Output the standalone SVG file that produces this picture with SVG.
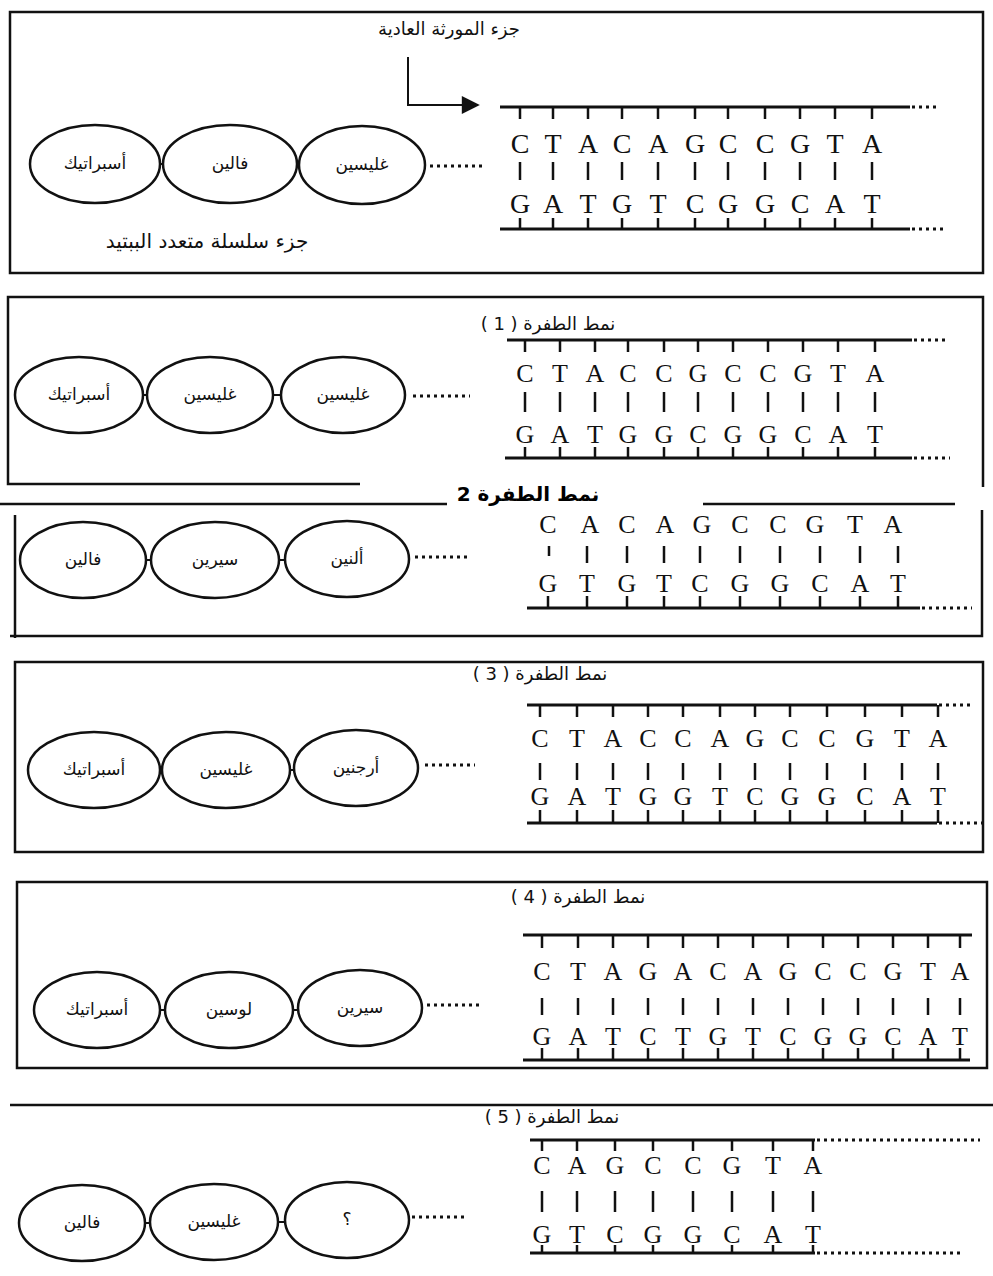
<svg xmlns="http://www.w3.org/2000/svg" width="993" height="1276" viewBox="0 0 993 1276">
<style>
.frame{fill:none;stroke:#111;stroke-width:2.5}
.strand{fill:none;stroke:#111;stroke-width:3}
.tick{fill:none;stroke:#111;stroke-width:2.5}
.dots{fill:none;stroke:#111;stroke-width:3;stroke-dasharray:3 4}
.oval{fill:#fff;stroke:#111;stroke-width:2.5}
.base{font-family:'Liberation Serif','DejaVu Serif',serif;font-size:26px;fill:#111;text-anchor:middle}
.big{font-size:28px}
.ar{font-family:'DejaVu Sans',sans-serif;font-size:17px;fill:#111;text-anchor:middle}
.lbl{font-family:'DejaVu Sans',sans-serif;font-size:18px;fill:#111;text-anchor:middle}
.cap{font-size:20px}
.bold{font-family:'DejaVu Sans',sans-serif;font-size:20px;font-weight:bold;fill:#000;text-anchor:middle}
.link{fill:none;stroke:#111;stroke-width:2}
</style>
<defs>
<marker id="arr" viewBox="0 0 10 10" refX="9" refY="5" markerWidth="11" markerHeight="9" orient="auto" markerUnits="strokeWidth">
<path d="M0,0 L10,5 L0,10 z" fill="#111"/>
</marker>
</defs>

<g id="frames">
<rect class="frame" x="10" y="12" width="973" height="261"/>
<path class="frame" d="M360,484 H8 V297 H983 V487"/>
<path class="frame" d="M0,504 H447 M703,504 H955 M15,515 V638 M10,636 H982 V510"/>
<rect class="frame" x="15" y="662" width="968" height="190"/>
<rect class="frame" x="17" y="882" width="970" height="186"/>
<path class="frame" d="M10,1105 H993"/>
</g>

<g id="labels">
<text class="lbl" x="449" y="35" direction="rtl">جزء المورثة العادية</text>
<text class="lbl cap" x="207" y="248" direction="rtl">جزء سلسلة متعدد الببتيد</text>
<text class="lbl" x="548" y="330" direction="rtl">نمط الطفرة ( 1 )</text>
<text class="bold" x="528" y="501" direction="rtl">نمط الطفرة 2</text>
<text class="lbl" x="540" y="680" direction="rtl">نمط الطفرة ( 3 )</text>
<text class="lbl" x="578" y="903" direction="rtl">نمط الطفرة ( 4 )</text>
<text class="lbl" x="552" y="1123" direction="rtl">نمط الطفرة ( 5 )</text>
</g>

<g id="dna1">
<path class="strand" d="M500,107 H910 M500,229 H910"/>
<path class="tick" d="M520 107V119M553 107V119M588 107V119M622 107V119M658 107V119M695 107V119M728 107V119M765 107V119M800 107V119M835 107V119M872 107V119 M520 162V180M553 162V180M588 162V180M622 162V180M658 162V180M695 162V180M728 162V180M765 162V180M800 162V180M835 162V180M872 162V180 M520 218V229M553 218V229M588 218V229M622 218V229M658 218V229M695 218V229M728 218V229M765 218V229M800 218V229M835 218V229M872 218V229"/>
<text class="base big" x="520 553 588 622 658 695 728 765 800 835 872" y="153">CTACAGCCGTA</text>
<text class="base big" x="520 553 588 622 658 695 728 765 800 835 872" y="213">GATGTCGGCAT</text>
</g>

<g id="dna2">
<path class="strand" d="M507,340 H912 M505,458 H912"/>
<path class="tick" d="M525 340V352M560 340V352M595 340V352M628 340V352M664 340V352M698 340V352M733 340V352M768 340V352M803 340V352M838 340V352M875 340V352 M525 392V412M560 392V412M595 392V412M628 392V412M664 392V412M698 392V412M733 392V412M768 392V412M803 392V412M838 392V412M875 392V412 M525 447V458M560 447V458M595 447V458M628 447V458M664 447V458M698 447V458M733 447V458M768 447V458M803 447V458M838 447V458M875 447V458"/>
<text class="base" x="525 560 595 628 664 698 733 768 803 838 875" y="382">CTACCGCCGTA</text>
<text class="base" x="525 560 595 628 664 698 733 768 803 838 875" y="443">GATGGCGGCAT</text>
</g>

<g id="dna3">
<path class="strand" d="M527,608 H920"/>
<path class="tick" d="M549 546V556M587 546V563M627 546V563M664 546V563M700 546V563M740 546V563M780 546V563M820 546V563M860 546V563M898 546V563 M548 596V608M587 596V608M627 596V608M664 596V608M700 596V608M740 596V608M780 596V608M820 596V608M860 596V608M898 596V608"/>
<text class="base" x="548 590 627 665 702 740 778 815 855 893" y="533">CACAGCCGTA</text>
<text class="base" x="548 587 627 664 700 740 780 820 860 898" y="592">GTGTCGGCAT</text>
</g>

<g id="dna4">
<path class="strand" d="M527,705 H937 M527,823 H937"/>
<path class="tick" d="M540 705V717M577 705V717M613 705V717M648 705V717M683 705V717M720 705V717M755 705V717M790 705V717M827 705V717M865 705V717M902 705V717M938 705V717 M540 763V780M577 763V780M613 763V780M648 763V780M683 763V780M720 763V780M755 763V780M790 763V780M827 763V780M865 763V780M902 763V780M938 763V780 M540 810V823M577 810V823M613 810V823M648 810V823M683 810V823M720 810V823M755 810V823M790 810V823M827 810V823M865 810V823M902 810V823M938 810V823"/>
<text class="base" x="540 577 613 648 683 720 755 790 827 865 902 938" y="747">CTACCAGCCGTA</text>
<text class="base" x="540 577 613 648 683 720 755 790 827 865 902 938" y="805">GATGGTCGGCAT</text>
</g>

<g id="dna5">
<path class="strand" d="M523,935 H972 M523,1060 H970"/>
<path class="tick" d="M542 935V948M578 935V948M613 935V948M648 935V948M683 935V948M718 935V948M753 935V948M788 935V948M823 935V948M858 935V948M893 935V948M928 935V948M960 935V948 M542 998V1015M578 998V1015M613 998V1015M648 998V1015M683 998V1015M718 998V1015M753 998V1015M788 998V1015M823 998V1015M858 998V1015M893 998V1015M928 998V1015M960 998V1015 M542 1048V1060M578 1048V1060M613 1048V1060M648 1048V1060M683 1048V1060M718 1048V1060M753 1048V1060M788 1048V1060M823 1048V1060M858 1048V1060M893 1048V1060M928 1048V1060M960 1048V1060"/>
<text class="base" x="542 578 613 648 683 718 753 788 823 858 893 928 960" y="980">CTAGACAGCCGTA</text>
<text class="base" x="542 578 613 648 683 718 753 788 823 858 893 928 960" y="1045">GATCTGTCGGCAT</text>
</g>

<g id="dna6">
<path class="strand" d="M530,1140 H815 M530,1253 H815"/>
<path class="tick" d="M542 1140V1151M577 1140V1151M615 1140V1151M653 1140V1151M693 1140V1151M732 1140V1151M773 1140V1151M813 1140V1151 M542 1191V1212M577 1191V1212M615 1191V1212M653 1191V1212M693 1191V1212M732 1191V1212M773 1191V1212M813 1191V1212 M542 1245V1253M577 1245V1253M615 1245V1253M653 1245V1253M693 1245V1253M732 1245V1253M773 1245V1253M813 1245V1253"/>
<text class="base" x="542 577 615 653 693 732 773 813" y="1174">CAGCCGTA</text>
<text class="base" x="542 577 615 653 693 732 773 813" y="1243">GTCGGCAT</text>
</g>

<g id="connectors">
<path class="link" d="M408,57 V105 H478" marker-end="url(#arr)"/>
<path class="dots" d="M912,107 H940 M912,229 H945 M430,166 H485"/>
<path class="dots" d="M914,340 H945 M914,458 H950 M413,396 H470"/>
<path class="dots" d="M922,608 H972 M415,557 H470"/>
<path class="dots" d="M939,705 H972 M939,823 H982 M425,765 H475"/>
<path class="dots" d="M427,1005 H480"/>
<path class="dots" d="M817,1140 H980 M817,1253 H962 M412,1217 H465"/>
<path class="link" d="M160,164 H163 M297,164 H299 M143,395 H147 M273,395 H281 M146,560 H151 M279,560 H285 M160,770 H162 M290,770 H294 M160,1010 H165 M293,1010 H298 M145,1223 H150 M278,1222 H285"/>
</g>

<g id="p1-o1"><ellipse class="oval" cx="95" cy="164" rx="65" ry="39"/><text class="ar" x="95" y="169">أسبراتيك</text></g>
<g id="p1-o2"><ellipse class="oval" cx="230" cy="164" rx="67" ry="39"/><text class="ar" x="230" y="169">فالين</text></g>
<g id="p1-o3"><ellipse class="oval" cx="362" cy="165" rx="63" ry="39"/><text class="ar" x="362" y="170">غليسين</text></g>

<g id="p2-o1"><ellipse class="oval" cx="79" cy="395" rx="64" ry="38"/><text class="ar" x="79" y="400">أسبراتيك</text></g>
<g id="p2-o2"><ellipse class="oval" cx="210" cy="395" rx="63" ry="38"/><text class="ar" x="210" y="400">غليسين</text></g>
<g id="p2-o3"><ellipse class="oval" cx="343" cy="395" rx="62" ry="38"/><text class="ar" x="343" y="400">غليسين</text></g>

<g id="p3-o1"><ellipse class="oval" cx="83" cy="560" rx="63" ry="38"/><text class="ar" x="83" y="565">فالين</text></g>
<g id="p3-o2"><ellipse class="oval" cx="215" cy="560" rx="64" ry="38"/><text class="ar" x="215" y="565">سيرين</text></g>
<g id="p3-o3"><ellipse class="oval" cx="347" cy="559" rx="62" ry="38"/><text class="ar" x="347" y="564">ألنين</text></g>

<g id="p4-o1"><ellipse class="oval" cx="94" cy="770" rx="66" ry="38"/><text class="ar" x="94" y="775">أسبراتيك</text></g>
<g id="p4-o2"><ellipse class="oval" cx="226" cy="770" rx="64" ry="38"/><text class="ar" x="226" y="775">غليسين</text></g>
<g id="p4-o3"><ellipse class="oval" cx="356" cy="768" rx="62" ry="38"/><text class="ar" x="356" y="773">أرجنين</text></g>

<g id="p5-o1"><ellipse class="oval" cx="97" cy="1010" rx="63" ry="38"/><text class="ar" x="97" y="1015">أسبراتيك</text></g>
<g id="p5-o2"><ellipse class="oval" cx="229" cy="1010" rx="64" ry="38"/><text class="ar" x="229" y="1015">لوسين</text></g>
<g id="p5-o3"><ellipse class="oval" cx="360" cy="1008" rx="62" ry="38"/><text class="ar" x="360" y="1013">سيرين</text></g>

<g id="p6-o1"><ellipse class="oval" cx="82" cy="1223" rx="63" ry="38"/><text class="ar" x="82" y="1228">فالين</text></g>
<g id="p6-o2"><ellipse class="oval" cx="214" cy="1222" rx="64" ry="38"/><text class="ar" x="214" y="1227">غليسين</text></g>
<g id="p6-o3"><ellipse class="oval" cx="347" cy="1220" rx="62" ry="38"/><text class="ar" x="347" y="1225">؟</text></g>
</svg>
